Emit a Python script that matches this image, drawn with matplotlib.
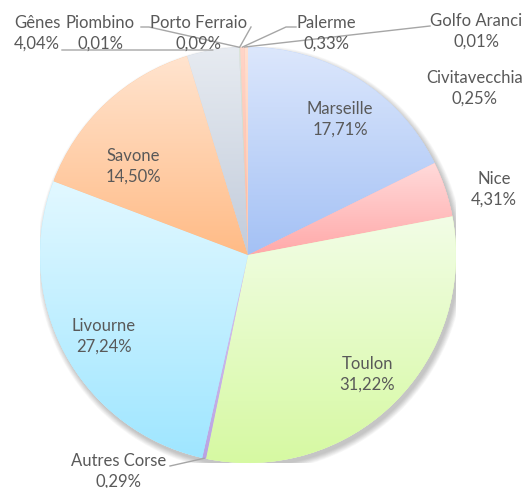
import numpy as np
import matplotlib
matplotlib.use('Agg')
import matplotlib.pyplot as plt
from matplotlib.colors import to_rgb
from matplotlib.patches import Circle

# ---- data ----
labels = ['Marseille', 'Nice', 'Toulon', 'Autres Corse', 'Livourne', 'Savone',
          'Gênes', 'Piombino', 'Porto Ferraio', 'Palerme', 'Golfo Aranci', 'Civitavecchia']
values = [17.71, 4.31, 31.22, 0.29, 27.24, 14.50, 4.04, 0.01, 0.09, 0.33, 0.01, 0.25]

# ---- styles ----
grad_top = ['#DCE7FC', '#FFDADA', '#F2FDE6', '#D9C8F0', '#E2F8FF', '#FFE4CF',
            '#E7EBF1', '#E0E0E0', '#DDE8DC', '#FFD5C8', '#D8E4F2', '#FFE0D0']
grad_bot = ['#A4C1F5', '#FFA9A9', '#D6F9A2', '#B9A3E3', '#9FE6FF', '#FFBB86',
            '#C2CCDB', '#C8C8C8', '#C5D6C4', '#FFB8A2', '#C0D0E6', '#FFC8B0']

W, H = 525, 488
CX, CY, R = 248, 255, 208

fig = plt.figure(figsize=(W / 100, H / 100), dpi=100)
ax = fig.add_axes([(CX - R) / W, (H - CY - R) / H, 2 * R / W, 2 * R / H])


def P(x, y):
    return ((x - CX) / R, (CY - y) / R)


# shadow
for i in range(10):
    ax.add_patch(Circle((0.012, -0.018), 1.0 + i * 0.003, color='k', alpha=0.025,
                        lw=0, zorder=0))
ax.add_patch(Circle((0, 0), 1.0, color='white', lw=0, zorder=0.5))

wedges, _ = ax.pie(values, startangle=90, counterclock=False, radius=1,
                   colors=grad_bot, wedgeprops=dict(linewidth=0))

for w, ct, cb in zip(wedges, grad_top, grad_bot):
    w.set_zorder(1)
    bb = w.get_path().get_extents()
    t = np.linspace(0, 1, 256)[:, None]
    c0, c1 = np.array(to_rgb(ct)), np.array(to_rgb(cb))
    img = (c0[None, None, :] * (1 - t[..., None]) + c1[None, None, :] * t[..., None])
    img = np.repeat(img, 2, axis=1)
    im = ax.imshow(img, extent=[bb.x0, bb.x1, bb.y0, bb.y1], origin='upper',
                   aspect='auto', interpolation='bilinear', zorder=2)
    im.set_clip_path(w)

ax.set_xlim(-1, 1)
ax.set_ylim(-1, 1)
ax.set_aspect('equal')
ax.axis('off')

# ---- labels ----
label_pos = {
    'Marseille': (340, 119), 'Nice': (494, 189), 'Toulon': (367, 374),
    'Autres Corse': (119, 471), 'Livourne': (104, 336), 'Savone': (133, 166),
    'Gênes': (37, 33), 'Piombino': (100, 33), 'Porto Ferraio': (199, 33),
    'Palerme': (326, 33), 'Golfo Aranci': (476, 31), 'Civitavecchia': (475, 88),
}
leaders = {
    'Gênes': [(62, 50)],
    'Piombino': [(141, 27), (149, 27)],
    'Porto Ferraio': [(251, 27)],
    'Palerme': [(296, 27), (286, 27)],
    'Golfo Aranci': [(430, 26)],
    'Autres Corse': [(170, 466)],
}

txt_color = '#595959'
for name, v, w in zip(labels, values, wedges):
    pct = f"{v:.2f}".replace('.', ',') + '%'
    x, y = P(*label_pos[name])
    ax.text(x, y, f"{name}\n{pct}", ha='center', va='center', color=txt_color,
            fontsize=12, family='Lato', linespacing=1.38, zorder=5,
            clip_on=False)
    if name in leaders:
        mid = np.deg2rad((w.theta1 + w.theta2) / 2)
        pts = [P(*p) for p in leaders[name]] + [(np.cos(mid), np.sin(mid))]
        xs, ys = zip(*pts)
        ax.plot(xs, ys, color='#A6A6A6', lw=1, zorder=4, clip_on=False)

fig.savefig('out.png', dpi=100)
